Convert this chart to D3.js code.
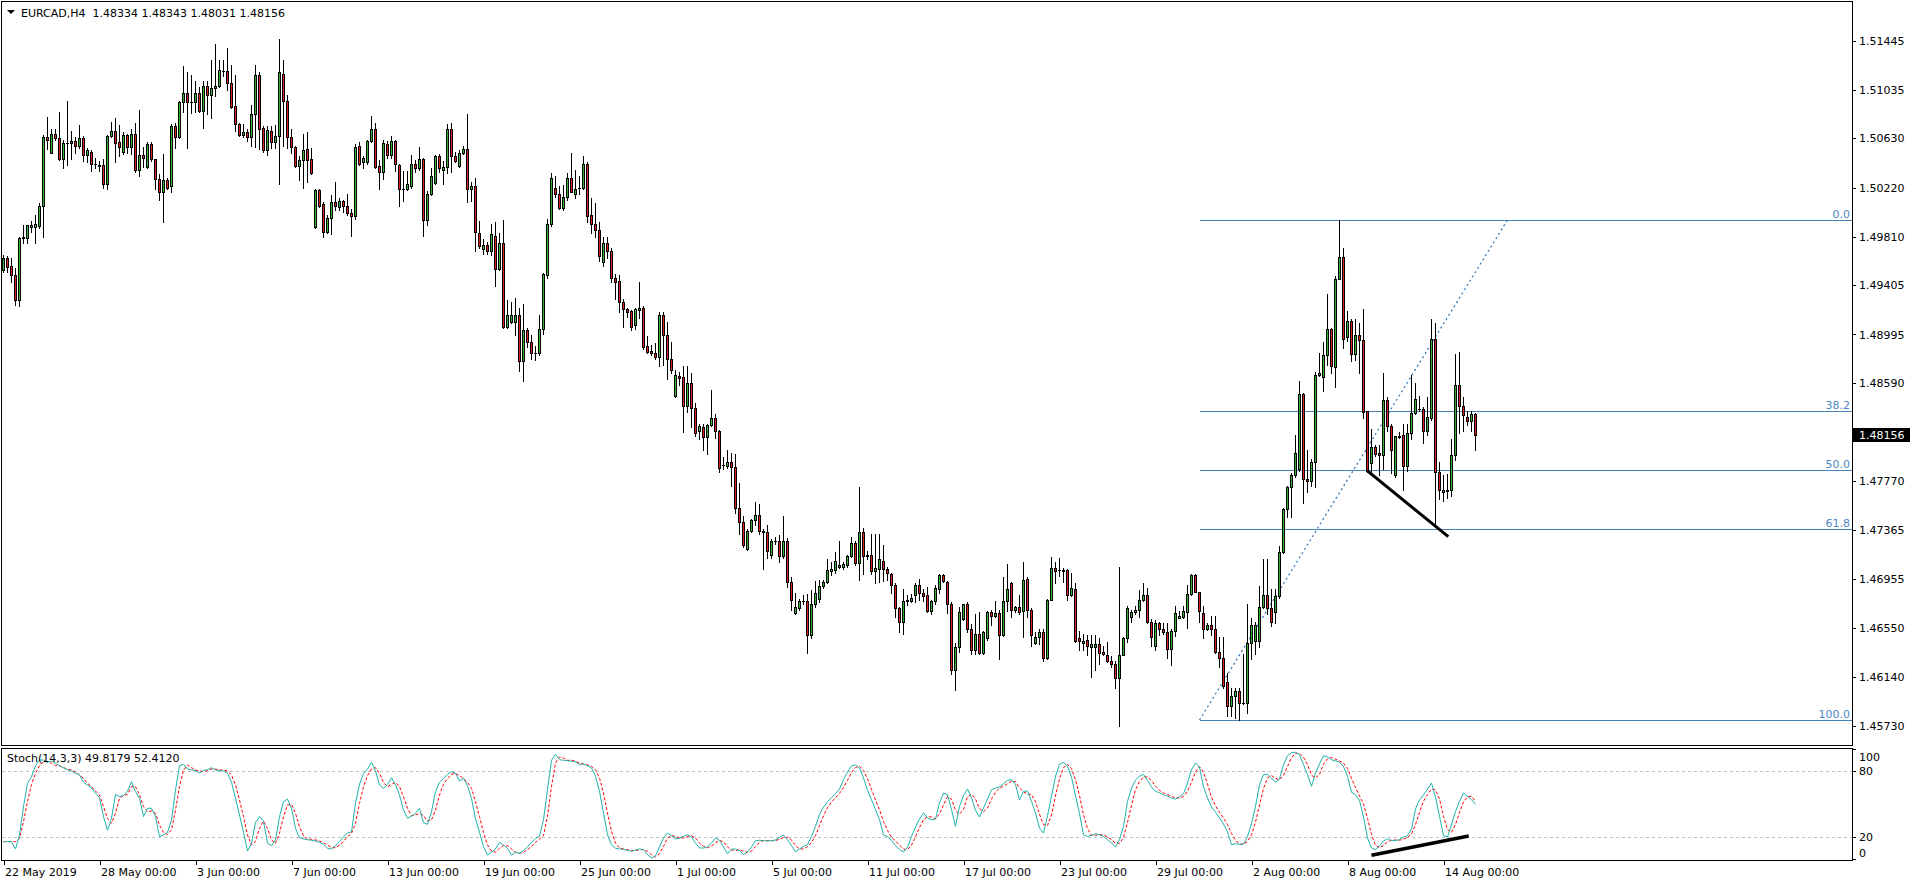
<!DOCTYPE html>
<html><head><meta charset="utf-8">
<script src="https://cdn.jsdelivr.net/npm/d3@7"></script>
<style>
html,body{margin:0;padding:0;background:#fff;}
svg{display:block;font-family:"DejaVu Sans",sans-serif;}
</style></head><body>
<svg id="c" width="1916" height="884"></svg>
<script>
// ---------------- DATA ----------------
const symbolTitle = "EURCAD,H4  1.48334 1.48343 1.48031 1.48156";
const stochTitle = "Stoch(14,3,3) 49.8179 52.4120";
const open = [
1.4953,1.4963,1.4957,1.4949,1.4928,1.4980,1.4980,1.4989,1.4989,1.4990,
1.5007,1.5064,1.5051,1.5067,1.5063,1.5046,1.5059,1.5059,1.5061,1.5057,
1.5063,1.5049,1.5052,1.5042,1.5041,1.5041,1.5025,1.5065,1.5069,1.5060,
1.5052,1.5066,1.5056,1.5067,1.5037,1.5049,1.5039,1.5058,1.5046,1.5029,
1.5018,1.5028,1.5023,1.5073,1.5064,1.5093,1.5101,1.5093,1.5093,1.5101,
1.5086,1.5107,1.5099,1.5105,1.5107,1.5119,1.5119,1.5109,1.5090,1.5075,
1.5066,1.5068,1.5064,1.5083,1.5116,1.5072,1.5053,1.5069,1.5060,1.5065,
1.5117,1.5094,1.5064,1.5056,1.5040,1.5045,1.5054,1.5046,1.4989,1.5020,
1.5008,1.4985,1.4997,1.5010,1.5006,1.5011,1.5007,1.5001,1.4998,1.5057,
1.5043,1.5043,1.5061,1.5071,1.5040,1.5035,1.5058,1.5049,1.5061,1.5041,
1.5021,1.5021,1.5023,1.5042,1.5038,1.5046,1.4995,1.5017,1.5026,1.5048,
1.5037,1.5039,1.5071,1.5048,1.5040,1.5051,1.5054,1.5021,1.5023,1.4984,
1.4971,1.4974,1.4969,1.4982,1.4954,1.4976,1.4906,1.4910,1.4910,1.4916,
1.4877,1.4903,1.4893,1.4884,1.4884,1.4904,1.4949,1.4992,1.5022,1.5017,
1.5005,1.5014,1.5030,1.5017,1.5022,1.5022,1.5042,1.4999,1.4992,1.4987,
1.4960,1.4976,1.4969,1.4947,1.4944,1.4927,1.4921,1.4919,1.4907,1.4920,
1.4922,1.4890,1.4886,1.4884,1.4881,1.4916,1.4899,1.4879,1.4848,1.4865,
1.4864,1.4840,1.4859,1.4838,1.4819,1.4822,1.4814,1.4824,1.4830,1.4819,
1.4791,1.4790,1.4793,1.4789,1.4755,1.4743,1.4721,1.4736,1.4745,1.4749,
1.4736,1.4735,1.4716,1.4727,1.4727,1.4715,1.4727,1.4693,1.4667,1.4671,
1.4677,1.4677,1.4649,1.4675,1.4679,1.4690,1.4693,1.4702,1.4703,1.4706,
1.4706,1.4707,1.4715,1.4726,1.4709,1.4735,1.4715,1.4716,1.4702,1.4704,
1.4711,1.4704,1.4700,1.4691,1.4671,1.4660,1.4677,1.4677,1.4682,1.4691,
1.4684,1.4682,1.4669,1.4677,1.4687,1.4699,1.4693,1.4675,1.4620,1.4639,
1.4662,1.4675,1.4654,1.4636,1.4650,1.4634,1.4646,1.4668,1.4665,1.4667,
1.4649,1.4677,1.4692,1.4670,1.4672,1.4669,1.4696,1.4670,1.4642,1.4647,
1.4651,1.4630,1.4678,1.4705,1.4703,1.4703,1.4703,1.4682,1.4687,1.4646,
1.4642,1.4645,1.4639,1.4639,1.4641,1.4635,1.4632,1.4627,1.4625,1.4613,
1.4632,1.4646,1.4664,1.4668,1.4670,1.4678,1.4682,1.4660,1.4640,1.4659,
1.4654,1.4651,1.4637,1.4652,1.4663,1.4664,1.4668,1.4683,1.4699,1.4685,
1.4667,1.4654,1.4657,1.4654,1.4635,1.4630,1.4610,1.4590,1.4598,1.4602,
1.4592,1.4592,1.4642,1.4644,1.4644,1.4672,1.4682,1.4671,1.4668,1.4681,
1.4718,1.4754,1.4772,1.4782,1.4787,1.4850,1.4779,1.4777,1.4793,1.4866,
1.4864,1.4882,1.4904,1.4872,1.4946,1.4964,1.4897,1.4911,1.4883,1.4899,
1.4895,1.4836,1.4792,1.4806,1.4801,1.4799,1.4845,1.4823,1.4782,1.4815,
1.4816,1.4790,1.4817,1.4834,1.4837,1.4837,1.4819,1.4830,1.4896,1.4785,
1.4768,1.4769,1.4770,1.4799,1.4857,1.4840,1.4831,1.4827,1.48334];
const high = [
1.4966,1.4965,1.4963,1.4955,1.4981,1.4991,1.4991,1.4994,1.4999,1.5009,
1.5066,1.5081,1.5071,1.5071,1.5085,1.5062,1.5094,1.5069,1.5064,1.5074,
1.5065,1.5055,1.5053,1.5047,1.5044,1.5046,1.5066,1.5077,1.5080,1.5074,
1.5068,1.5067,1.5071,1.5076,1.5087,1.5056,1.5060,1.5060,1.5046,1.5033,
1.5050,1.5030,1.5075,1.5076,1.5094,1.5123,1.5118,1.5116,1.5111,1.5106,
1.5111,1.5111,1.5128,1.5142,1.5128,1.5128,1.5138,1.5124,1.5116,1.5076,
1.5075,1.5071,1.5091,1.5124,1.5118,1.5073,1.5073,1.5073,1.5074,1.5146,
1.5128,1.5099,1.5071,1.5057,1.5048,1.5067,1.5068,1.5055,1.5021,1.5021,
1.5010,1.4999,1.5016,1.5027,1.5013,1.5012,1.5017,1.5004,1.5058,1.5060,
1.5048,1.5062,1.5082,1.5076,1.5045,1.5062,1.5061,1.5065,1.5062,1.5042,
1.5036,1.5036,1.5049,1.5045,1.5056,1.5047,1.5019,1.5038,1.5049,1.5050,
1.5044,1.5075,1.5076,1.5052,1.5053,1.5057,1.5083,1.5027,1.5030,1.4994,
1.4979,1.4977,1.4992,1.4993,1.4984,1.4995,1.4928,1.4927,1.4930,1.4922,
1.4925,1.4905,1.4899,1.4890,1.4916,1.4951,1.4996,1.5034,1.5032,1.5023,
1.5024,1.5034,1.5051,1.5037,1.5032,1.5048,1.5043,1.5013,1.5009,1.4993,
1.4981,1.4981,1.4972,1.4950,1.4949,1.4929,1.4922,1.4920,1.4922,1.4943,
1.4923,1.4898,1.4891,1.4892,1.4918,1.4918,1.4910,1.4893,1.4870,1.4868,
1.4873,1.4873,1.4867,1.4842,1.4825,1.4825,1.4825,1.4853,1.4833,1.4820,
1.4797,1.4803,1.4801,1.4800,1.4776,1.4748,1.4737,1.4746,1.4760,1.4758,
1.4737,1.4741,1.4729,1.4731,1.4732,1.4748,1.4730,1.4697,1.4684,1.4679,
1.4682,1.4683,1.4686,1.4694,1.4695,1.4695,1.4712,1.4710,1.4718,1.4727,
1.4710,1.4716,1.4731,1.4727,1.4772,1.4738,1.4719,1.4733,1.4733,1.4733,
1.4724,1.4706,1.4701,1.4692,1.4672,1.4687,1.4682,1.4683,1.4692,1.4696,
1.4687,1.4689,1.4678,1.4691,1.4700,1.4700,1.4694,1.4676,1.4642,1.4672,
1.4675,1.4676,1.4658,1.4666,1.4668,1.4652,1.4669,1.4670,1.4677,1.4670,
1.4697,1.4708,1.4693,1.4673,1.4682,1.4710,1.4697,1.4671,1.4651,1.4654,
1.4654,1.4679,1.4714,1.4710,1.4713,1.4705,1.4704,1.4701,1.4692,1.4652,
1.4650,1.4649,1.4649,1.4649,1.4646,1.4640,1.4643,1.4631,1.4627,1.4706,
1.4647,1.4673,1.4670,1.4673,1.4686,1.4692,1.4688,1.4662,1.4661,1.4660,
1.4659,1.4659,1.4654,1.4673,1.4669,1.4673,1.4691,1.4700,1.4700,1.4685,
1.4673,1.4659,1.4665,1.4665,1.4647,1.4647,1.4617,1.4605,1.4605,1.4605,
1.4633,1.4675,1.4663,1.4660,1.4690,1.4712,1.4712,1.4687,1.4687,1.4723,
1.4755,1.4773,1.4784,1.4816,1.4861,1.4851,1.4803,1.4796,1.4868,1.4884,
1.4893,1.4933,1.4905,1.4948,1.4995,1.4972,1.4919,1.4912,1.4912,1.4909,
1.4921,1.4836,1.4821,1.4807,1.4807,1.4867,1.4847,1.4825,1.4815,1.4818,
1.4825,1.4825,1.4866,1.4859,1.4848,1.4839,1.4847,1.4912,1.4909,1.4793,
1.4782,1.4783,1.4812,1.4883,1.4885,1.4847,1.4836,1.4836,1.48343];
const low = [
1.4952,1.4952,1.4943,1.4924,1.4923,1.4976,1.4976,1.4985,1.4976,1.4988,
1.4981,1.5054,1.5051,1.5062,1.5045,1.5038,1.5041,1.5046,1.5051,1.5055,
1.5044,1.5043,1.5036,1.5038,1.5036,1.5022,1.5021,1.5064,1.5043,1.5048,
1.5050,1.5051,1.5050,1.5035,1.5032,1.5039,1.5038,1.5044,1.5021,1.5012,
1.4993,1.5021,1.5018,1.5055,1.5063,1.5085,1.5055,1.5084,1.5085,1.5085,
1.5072,1.5083,1.5080,1.5098,1.5106,1.5115,1.5103,1.5088,1.5069,1.5065,
1.5064,1.5061,1.5057,1.5056,1.5054,1.5052,1.5049,1.5055,1.5055,1.5025,
1.5057,1.5055,1.5051,1.5039,1.5028,1.5022,1.5027,1.5033,1.4988,1.5006,
1.4981,1.4984,1.4983,1.5003,1.5003,1.5002,1.4999,1.4982,1.4996,1.5041,
1.5038,1.5042,1.5060,1.5038,1.5021,1.5029,1.5047,1.5047,1.5036,1.5007,
1.5011,1.5020,1.5022,1.5035,1.5037,1.4982,1.4991,1.5016,1.5025,1.5035,
1.5025,1.5034,1.5035,1.5043,1.5039,1.5050,1.5010,1.5011,1.4969,1.4972,
1.4967,1.4967,1.4966,1.4940,1.4953,1.4905,1.4905,1.4909,1.4899,1.4869,
1.4861,1.4889,1.4879,1.4878,1.4882,1.4900,1.4947,1.4990,1.5014,1.5004,
1.5003,1.5012,1.5018,1.5013,1.5017,1.5021,1.4993,1.4984,1.4981,1.4961,
1.4957,1.4963,1.4943,1.4929,1.4918,1.4906,1.4914,1.4903,1.4904,1.4913,
1.4887,1.4884,1.4882,1.4879,1.4873,1.4874,1.4862,1.4867,1.4847,1.4857,
1.4818,1.4835,1.4822,1.4815,1.4812,1.4803,1.4800,1.4823,1.4813,1.4785,
1.4787,1.4788,1.4773,1.4751,1.4733,1.4722,1.4720,1.4735,1.4741,1.4733,
1.4704,1.4713,1.4713,1.4725,1.4710,1.4713,1.4689,1.4670,1.4666,1.4670,
1.4675,1.4634,1.4646,1.4672,1.4676,1.4688,1.4692,1.4699,1.4701,1.4705,
1.4704,1.4706,1.4714,1.4707,1.4695,1.4700,1.4712,1.4700,1.4692,1.4693,
1.4694,1.4695,1.4684,1.4664,1.4651,1.4650,1.4674,1.4676,1.4676,1.4678,
1.4677,1.4668,1.4666,1.4675,1.4684,1.4693,1.4667,1.4616,1.4603,1.4635,
1.4661,1.4651,1.4633,1.4633,1.4633,1.4633,1.4645,1.4657,1.4664,1.4629,
1.4648,1.4669,1.4664,1.4668,1.4666,1.4647,1.4664,1.4640,1.4641,1.4641,
1.4627,1.4629,1.4678,1.4692,1.4698,1.4693,1.4678,1.4681,1.4643,1.4636,
1.4636,1.4632,1.4614,1.4620,1.4625,1.4632,1.4626,1.4622,1.4605,1.4573,
1.4632,1.4643,1.4660,1.4666,1.4664,1.4677,1.4659,1.4640,1.4636,1.4649,
1.4650,1.4630,1.4624,1.4648,1.4663,1.4663,1.4655,1.4682,1.4685,1.4660,
1.4646,1.4653,1.4649,1.4634,1.4622,1.4605,1.4581,1.4581,1.4580,1.4578,
1.4591,1.4584,1.4629,1.4633,1.4639,1.4671,1.4666,1.4656,1.4659,1.4680,
1.4717,1.4747,1.4747,1.4781,1.4786,1.4759,1.4768,1.4773,1.4772,1.4865,
1.4852,1.4874,1.4867,1.4856,1.4946,1.4888,1.4894,1.4877,1.4878,1.4867,
1.4830,1.4785,1.4785,1.4798,1.4782,1.4787,1.4819,1.4784,1.4781,1.4813,
1.4770,1.4786,1.4812,1.4833,1.4836,1.4809,1.4816,1.4828,1.4740,1.4762,
1.4761,1.4763,1.4765,1.4795,1.4817,1.4819,1.4824,1.4819,1.48031];
const close = [
1.4963,1.4956,1.4949,1.4928,1.4980,1.4981,1.4991,1.4991,1.4992,1.5007,
1.5064,1.5062,1.5067,1.5063,1.5046,1.5059,1.5059,1.5061,1.5057,1.5063,
1.5049,1.5053,1.5042,1.5042,1.5040,1.5025,1.5065,1.5069,1.5059,1.5056,
1.5066,1.5056,1.5067,1.5037,1.5049,1.5047,1.5058,1.5046,1.5029,1.5018,
1.5028,1.5022,1.5073,1.5064,1.5093,1.5101,1.5093,1.5093,1.5101,1.5086,
1.5107,1.5099,1.5105,1.5107,1.5120,1.5119,1.5109,1.5089,1.5075,1.5066,
1.5068,1.5064,1.5083,1.5116,1.5071,1.5053,1.5070,1.5060,1.5065,1.5118,
1.5094,1.5064,1.5056,1.5040,1.5045,1.5053,1.5045,1.5034,1.5020,1.5007,
1.4985,1.4997,1.5010,1.5007,1.5011,1.5007,1.5001,1.4998,1.5056,1.5042,
1.5047,1.5061,1.5071,1.5039,1.5035,1.5059,1.5049,1.5061,1.5042,1.5021,
1.5021,1.5025,1.5042,1.5038,1.5046,1.4995,1.5017,1.5032,1.5048,1.5038,
1.5039,1.5071,1.5048,1.5044,1.5051,1.5054,1.5021,1.5023,1.4985,1.4973,
1.4974,1.4969,1.4983,1.4954,1.4976,1.4906,1.4916,1.4916,1.4916,1.4877,
1.4903,1.4893,1.4884,1.4884,1.4904,1.4950,1.4992,1.5030,1.5017,1.5005,
1.5014,1.5030,1.5018,1.5021,1.5022,1.5042,1.4998,1.4992,1.4987,1.4965,
1.4976,1.4969,1.4947,1.4943,1.4927,1.4921,1.4918,1.4906,1.4921,1.4922,
1.4889,1.4885,1.4884,1.4881,1.4916,1.4899,1.4879,1.4870,1.4866,1.4863,
1.4840,1.4859,1.4838,1.4817,1.4823,1.4814,1.4824,1.4830,1.4819,1.4788,
1.4791,1.4793,1.4789,1.4755,1.4743,1.4724,1.4736,1.4745,1.4749,1.4736,
1.4735,1.4719,1.4727,1.4727,1.4715,1.4727,1.4693,1.4678,1.4672,1.4677,
1.4677,1.4649,1.4675,1.4684,1.4690,1.4693,1.4703,1.4704,1.4711,1.4707,
1.4708,1.4715,1.4726,1.4709,1.4735,1.4715,1.4716,1.4702,1.4705,1.4712,
1.4704,1.4701,1.4691,1.4671,1.4660,1.4677,1.4678,1.4680,1.4691,1.4684,
1.4681,1.4669,1.4677,1.4688,1.4699,1.4694,1.4675,1.4620,1.4639,1.4668,
1.4675,1.4654,1.4636,1.4650,1.4634,1.4651,1.4668,1.4665,1.4667,1.4649,
1.4677,1.4687,1.4670,1.4672,1.4668,1.4695,1.4670,1.4649,1.4647,1.4651,
1.4630,1.4678,1.4705,1.4702,1.4703,1.4702,1.4682,1.4688,1.4644,1.4644,
1.4644,1.4640,1.4641,1.4641,1.4634,1.4633,1.4627,1.4625,1.4613,1.4632,
1.4646,1.4671,1.4668,1.4670,1.4678,1.4682,1.4660,1.4647,1.4659,1.4654,
1.4651,1.4637,1.4652,1.4667,1.4665,1.4669,1.4683,1.4699,1.4685,1.4669,
1.4654,1.4657,1.4654,1.4635,1.4630,1.4606,1.4590,1.4598,1.4602,1.4592,
1.4592,1.4642,1.4657,1.4657,1.4672,1.4682,1.4671,1.4660,1.4681,1.4718,
1.4754,1.4772,1.4782,1.4801,1.4850,1.4779,1.4777,1.4793,1.4866,1.4867,
1.4882,1.4904,1.4873,1.4946,1.4964,1.4896,1.4911,1.4883,1.4899,1.4895,
1.4835,1.4786,1.4806,1.4800,1.4799,1.4845,1.4823,1.4803,1.4815,1.4814,
1.4790,1.4817,1.4834,1.4846,1.4837,1.4819,1.4831,1.4896,1.4785,1.4770,
1.4770,1.4770,1.4799,1.4857,1.4840,1.4832,1.4827,1.4833,1.48156];
const stochMain = [
15.8,15.8,15.8,9.1,21.8,47.6,68.8,74.8,84.8,90,
90,87.9,89.1,87,84.8,83,81.2,80,77.9,76.4,
69.7,67.3,64.8,59.7,55.8,38.5,26.1,37,58.8,56.7,
57.6,61.8,70.3,61.2,55.2,38.5,46.1,46.1,38.5,20.3,
21.8,24.2,35.5,62.7,84.8,86.1,81.8,80.9,80.3,78.2,
80.6,81.2,83,80.9,80.3,80,77.9,69.7,55.2,40,
24.2,7.3,14.2,33.3,38.5,34.5,14.2,12.1,17.3,38.5,
52.1,54.5,46.1,27.9,19.4,18.2,17.6,17,16.4,15.2,
13.3,9.7,9.1,12.1,15.8,20.3,23.6,24.8,50.6,67.9,
77.6,81.8,87.9,80,67.3,64.2,67.9,73.9,67.3,58.2,
44.5,37,39.1,41.5,46.1,33,31.5,43,61.2,69.7,
73.3,77,79.4,77.9,70.9,73.3,66.7,55.2,36.4,24.2,
11.2,3.6,6.1,9.1,15.2,12.7,9.7,3.6,6.1,5.2,
7.9,10.9,15.2,18.8,20.6,35.8,63,89.7,95.2,90.3,
89.7,89.4,88.8,88.2,85.8,86.4,84.8,82.7,75.2,61.5,
41.8,22.1,13,9.7,9.1,8.8,7.9,7,8.2,9.1,
8.5,3.9,0.9,3,10.9,19.1,23.6,21.2,18.2,18.8,
20.6,22.1,20,14.5,10,10,10.9,14.5,19.1,17,
10.9,4.8,9.1,9.1,7.6,4.2,6.4,10.9,16.7,17,
16.7,16.4,16.7,17.3,19.7,21.8,17.6,12.1,6.7,9.1,
11.5,13,20.6,29.7,40.6,47.3,52.1,55.8,59.4,63.6,
72.1,79.1,84.8,85.5,82.7,73.6,62.4,53.9,44.8,35.8,
21.8,20.3,17,12.1,8.5,6.4,10.9,20.6,29.1,36.4,
41.8,37.3,35.5,36.4,50.9,60,58.5,44.8,29.7,47.9,
57.6,63.6,55.5,44.2,38.2,46.4,54.5,63,64.5,65.5,
68.5,71.5,72.1,67.6,53.9,61.5,61.8,52.4,41.8,28.2,
23.6,39.4,57,75.2,86.1,87.9,84.2,74.5,57.6,41.2,
21.8,20.6,21.5,23,22.1,20.6,17.6,14.5,10.9,17.6,
29.7,52.4,64.5,71.8,75.2,77,71.5,65.5,61.5,60.3,
58.2,57.3,55.2,54.5,56.4,59.4,69.1,81.2,87.3,83.6,
65.5,55.5,47.3,42.4,37.3,31.8,24.8,13,13.9,13.3,
13.6,20.6,32.1,47.9,67.6,76.7,77,73.6,69.7,72.7,
85.8,93.9,96.7,97,94.8,85.8,76.7,66.1,78.2,86.4,
93.9,92.7,90.3,89.1,88.2,83.9,75.2,60.6,58.5,53.3,
38.2,19.1,10,8.5,12.1,16.4,18.5,16.7,16.7,17.6,
20,21.2,27.3,45.5,53.9,58.2,63.6,69.1,56.1,38.8,
21.2,20,31.2,43.3,52.4,60,57,53.9,49.8];
const stochSignal = [
15.8,15.8,15.8,15.8,18.8,33.9,52.1,67.9,77.9,84.8,
88.5,88.5,87,84.8,84.8,83,81.8,80.9,78.8,76.4,
73.3,68.8,65.8,61.8,58.2,47.6,37,32.4,41.5,55.2,
57.6,58.8,65.8,65.8,58.2,47.6,43,43.6,41.5,30.9,
24.2,22.4,26.4,44.5,65.8,80.9,85.5,83,80.9,80,
79.4,80.3,81.8,81.8,80.9,80.9,80,76.4,67.3,53.6,
38.5,21.8,12.7,15.8,27.9,34.5,27.9,17.3,14.2,23.3,
38.5,49.1,49.7,41.5,29.4,21.2,18.2,17.9,17.3,16.4,
14.8,12.7,10.3,10.3,12.7,15.8,20.3,23.3,32.4,50.6,
65.8,75.8,81.8,83,77.9,69.7,65.8,67.9,69.7,65.8,
56.7,46.1,39.4,40,41.5,39.4,34.5,35.5,44.5,58.2,
67.9,73.3,77,77.9,75.8,73.3,69.7,64.2,52.1,38.5,
24.2,12.7,7.3,6.1,9.7,12.1,12.1,9.1,6.1,5.2,
6.1,8.5,11.5,15.2,18.2,21.2,38.8,66.1,87.3,92.7,
91.8,89.7,89.7,88.8,87.3,86.4,85.5,84.2,81.2,73.6,
60,41.8,25.2,14.5,10,9.1,8.5,7.9,7.6,8.5,
8.5,7,3.9,1.8,4.8,11.5,19.1,21.2,20.6,19.1,
19.1,20.6,21.2,19.1,14.5,11.5,10.3,11.8,14.8,16.9,
15.7,10.9,8.3,7.7,8.6,7,6.1,7.2,11.3,14.9,
16.8,16.7,16.6,16.8,17.9,19.6,19.7,17.2,12.1,9.3,
9.1,11.2,15,21.1,30.3,39.2,46.7,51.7,55.8,59.6,
65,71.6,78.7,83.1,84.3,80.6,72.9,63.3,53.7,44.8,
34.1,26,19.7,16.5,12.5,9,8.6,12.6,20.2,28.7,
35.8,38.5,38.2,36.4,40.9,49.1,56.5,54.4,44.3,40.8,
45.1,56.4,58.9,54.4,46,42.9,46.4,54.6,60.7,64.3,
66.2,68.5,70.7,70.4,64.5,61,59.1,58.6,52,40.8,
31.2,30.4,40,57.2,72.8,83.1,86.1,82.2,72.1,57.8,
40.2,27.9,21.3,21.7,22.2,21.9,20.1,17.6,14.3,14.3,
19.4,33.2,48.9,62.9,70.5,74.7,74.6,71.3,66.2,62.4,
60,58.6,56.9,55.7,55.4,56.8,61.6,69.9,79.2,84,
78.8,68.2,56.1,48.4,42.3,37.2,31.3,23.2,17.2,13.4,
13.6,15.8,22.1,33.5,49.2,64.1,73.8,75.8,73.4,72,
76.1,84.1,92.1,95.9,96.2,92.5,85.8,76.2,73.7,76.9,
86.2,91,92.3,90.7,89.2,87.1,82.4,73.2,64.8,57.5,
50,36.9,22.4,12.5,10.2,12.3,15.7,17.2,17.3,17,
18.1,19.6,22.8,31.3,42.2,52.5,58.6,63.6,62.9,54.7,
38.7,26.7,24.1,31.5,42.3,51.9,56.5,57,52.4];
const timeLabels = ["22 May 2019","28 May 00:00","3 Jun 00:00","7 Jun 00:00","13 Jun 00:00","19 Jun 00:00","25 Jun 00:00","1 Jul 00:00","5 Jul 00:00","11 Jul 00:00","17 Jul 00:00","23 Jul 00:00","29 Jul 00:00","2 Aug 00:00","8 Aug 00:00","14 Aug 00:00"];
const timeTickBars = [0,24,48,72,96,120,144,168,192,216,240,264,288,312,336,360];
const priceTicks = [1.51445,1.51035,1.50630,1.50220,1.49810,1.49405,1.48995,1.48590,1.47770,1.47365,1.46955,1.46550,1.46140,1.45730];
const lastPrice = 1.48156;
const fibLevels = [0.0, 38.2, 50.0, 61.8, 100.0];
const fibLabels = ["0.0","38.2","50.0","61.8","100.0"];
const fibHigh = 1.49950, fibLow = 1.45780, fibBar1 = 299, fibBar2 = 376;
const stochLevels = [80, 20];
const stochTicks = [100, 80, 20, 0];
const priceTrend = [[340.9, 1.47859],[361.2, 1.47309]];
const stochTrend = [[342, 3.4],[366.3, 20.9]];

// ---------------- LAYOUT ----------------
const svg = d3.select("#c");
const RIGHT = 1852;
const N = open.length;
const x = d3.scaleLinear().domain([0, N-1]).range([3.5, 3.5 + 4*(N-1)]);
const y = d3.scaleLinear().domain([1.45730, 1.51445]).range([726, 40.7]);
const ys = d3.scaleLinear().domain([0, 100]).range([859, 749]);
const FONT = 11;
const UP = "#32b432", DOWN = "#dc1e1e", FIB = "#4682b4", FIBTXT = "#5086c4";

// frames
svg.append("rect").attr("x",1.5).attr("y",1.5).attr("width",RIGHT-1.5).attr("height",744)
  .attr("fill","none").attr("stroke","#000").attr("shape-rendering","crispEdges");
svg.append("rect").attr("x",1.5).attr("y",748.5).attr("width",RIGHT-1.5).attr("height",112)
  .attr("fill","none").attr("stroke","#000").attr("shape-rendering","crispEdges");

// clip
const defs = svg.append("defs");
defs.append("clipPath").attr("id","mainclip").append("rect").attr("x",2).attr("y",2).attr("width",RIGHT-2).attr("height",743);
defs.append("clipPath").attr("id","stclip").append("rect").attr("x",2).attr("y",749).attr("width",RIGHT-2).attr("height",111);

// ---- Fibonacci ----
const gF = svg.append("g").attr("clip-path","url(#mainclip)");
const fibPrice = l => fibHigh - (fibHigh - fibLow) * l / 100;
fibLevels.forEach((l, k) => {
  const yy = Math.round(y(fibPrice(l))) + 0.5;
  gF.append("line").attr("x1", x(fibBar1)).attr("x2", RIGHT).attr("y1", yy).attr("y2", yy)
    .attr("stroke", FIB).attr("stroke-width",1).attr("shape-rendering","crispEdges");
  svg.append("text").attr("x", RIGHT-2).attr("y", yy-2.5).attr("text-anchor","end")
    .attr("font-size", FONT).attr("fill", FIBTXT).text(fibLabels[k]);
});
gF.append("line").attr("x1", x(fibBar1)).attr("y1", y(fibLow)).attr("x2", x(fibBar2)).attr("y2", y(fibHigh))
  .attr("stroke", "#3a78b8").attr("stroke-width",1.3).attr("stroke-dasharray","2,3");

// ---- candles ----
const gC = svg.append("g").attr("clip-path","url(#mainclip)");
for (let i = 0; i < N; i++) {
  const cx = Math.round(x(i) - 0.5) + 0.5;
  const hh = Math.round(y(Math.max(high[i], open[i], close[i])));
  const ll = Math.round(y(Math.min(low[i], open[i], close[i])));
  gC.append("line").attr("x1",cx).attr("x2",cx).attr("y1",hh).attr("y2",ll+1)
    .attr("stroke","#000").attr("stroke-width",1).attr("shape-rendering","crispEdges");
  const top = Math.round(y(Math.max(open[i], close[i])));
  const bot = Math.round(y(Math.min(open[i], close[i])));
  if (bot - top < 1) {
    gC.append("rect").attr("x",cx-1.5).attr("y",top).attr("width",3).attr("height",1)
      .attr("fill","#000").attr("shape-rendering","crispEdges");
  } else {
    gC.append("rect").attr("x",cx-1).attr("y",top+0.5).attr("width",2).attr("height",bot-top)
      .attr("fill", close[i] > open[i] ? UP : DOWN).attr("stroke","#000").attr("stroke-width",1)
      .attr("shape-rendering","crispEdges");
  }
}

// price trend line (black)
gC.append("line").attr("x1", x(priceTrend[0][0])).attr("y1", y(priceTrend[0][1]))
  .attr("x2", x(priceTrend[1][0])).attr("y2", y(priceTrend[1][1]))
  .attr("stroke","#000").attr("stroke-width",3);

// ---- price axis ----
const ax = svg.append("g").attr("transform",`translate(${RIGHT},0)`)
  .call(d3.axisRight(y).tickValues(priceTicks).tickFormat(d3.format(".5f")).tickSize(4).tickPadding(3));
ax.select(".domain").remove();
ax.selectAll("text").attr("font-size",FONT).attr("font-family","DejaVu Sans").attr("fill","#000");
ax.selectAll("line").attr("stroke","#000").attr("shape-rendering","crispEdges");
// current price tag
const ly = y(lastPrice);
svg.append("rect").attr("x",RIGHT+1).attr("y",Math.round(ly)-7).attr("width",57).attr("height",14).attr("fill","#000");
svg.append("text").attr("x",RIGHT+7).attr("y",ly).attr("dy","0.35em").attr("font-size",FONT)
  .attr("fill","#fff").text(d3.format(".5f")(lastPrice));

// ---- title ----
svg.append("path").attr("d","M7,10 L15,10 L11,14 Z").attr("fill","#000");
svg.append("text").attr("x",21).attr("y",17).attr("font-size",FONT).attr("fill","#000")
  .style("white-space","pre").text(symbolTitle);

// ---- stochastic ----
const gS = svg.append("g").attr("clip-path","url(#stclip)");
stochLevels.forEach(v => {
  const yy = Math.round(ys(v)) + 0.5;
  gS.append("line").attr("x1",2).attr("x2",RIGHT).attr("y1",yy).attr("y2",yy)
    .attr("stroke","#c0c0c0").attr("stroke-dasharray","3,3").attr("shape-rendering","crispEdges");
});
const line = d3.line().x((d,i) => x(i)).y(d => ys(d));
gS.append("path").datum(stochSignal).attr("d",line).attr("fill","none")
  .attr("stroke","#ff0000").attr("stroke-width",1).attr("stroke-dasharray","3,2");
gS.append("path").datum(stochMain).attr("d",line).attr("fill","none")
  .attr("stroke","#20b2aa").attr("stroke-width",1);
gS.append("line").attr("x1", x(stochTrend[0][0])).attr("y1", ys(stochTrend[0][1]))
  .attr("x2", x(stochTrend[1][0])).attr("y2", ys(stochTrend[1][1]))
  .attr("stroke","#000").attr("stroke-width",3.5);
svg.append("text").attr("x",7).attr("y",762).attr("font-size",FONT).attr("fill","#000").text(stochTitle);

const sax = svg.append("g").attr("transform",`translate(${RIGHT},0)`)
  .call(d3.axisRight(ys).tickValues(stochTicks).tickFormat(d3.format("d")).tickSize(4).tickPadding(3));
sax.select(".domain").remove();
sax.selectAll("line").attr("stroke","#000").attr("shape-rendering","crispEdges");
sax.selectAll("text").attr("font-size",FONT).attr("font-family","DejaVu Sans").attr("fill","#000")
  .attr("dy", d => d === 100 ? "1.0em" : (d === 0 ? "-0.25em" : "0.35em"));

// ---- time axis ----
const tax = svg.append("g").attr("transform","translate(0,860)")
  .call(d3.axisBottom(x).tickValues(timeTickBars).tickFormat((d,i) => timeLabels[i]).tickSize(5).tickPadding(3));
tax.select(".domain").remove();
tax.selectAll("line").attr("stroke","#000").attr("shape-rendering","crispEdges");
tax.selectAll("text").attr("font-size",FONT).attr("font-family","DejaVu Sans").attr("fill","#000")
  .attr("text-anchor","start").attr("x",1);
</script>
</body></html>
